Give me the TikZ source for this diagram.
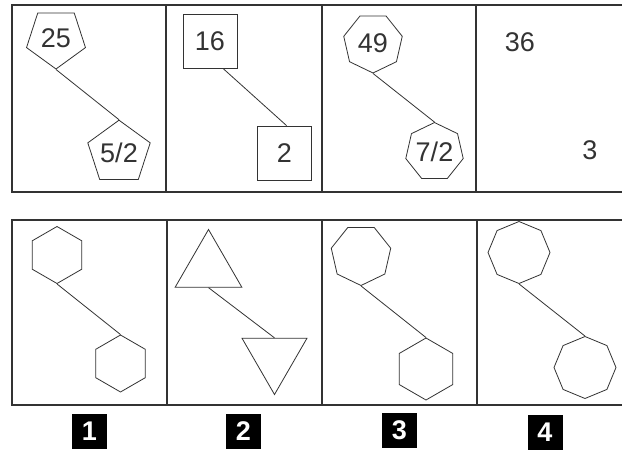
\documentclass[tikz,border=0pt]{standalone}
\usepackage{fontspec}
\setmainfont{Liberation Sans}
\usetikzlibrary{shapes.geometric}
\definecolor{ink}{HTML}{333333}
\begin{document}
\begin{tikzpicture}[x=1pt,y=-1pt,
  frame/.style={draw=ink, line width=1.6pt},
  divider/.style={draw=ink, line width=1.3pt},
  poly/.style={regular polygon, draw=ink, line width=0.8pt, inner sep=0pt, font=\fontsize{27}{30}\selectfont, text=ink},
  sq/.style={rectangle, draw=ink, line width=0.9pt, minimum size=54pt, inner sep=0pt, font=\fontsize{27}{30}\selectfont, text=ink},
  num/.style={inner sep=0pt, font=\fontsize{27}{30}\selectfont, text=ink},
  lbl/.style={rectangle, fill=black, text=white, minimum size=35pt, inner sep=0pt, font=\bfseries\fontsize{27}{30}\selectfont},
  conn/.style={draw=ink, line width=0.8pt}
]
\useasboundingbox[fill=white] (0,0) rectangle (622,455);

% frames
\draw[frame] (624,5) -- (12,5) -- (12,192) -- (624,192);
\draw[divider] (166,5) -- (166,192);
\draw[divider] (322,5) -- (322,192);
\draw[divider] (476,5) -- (476,192);

\draw[frame] (624,220) -- (12,220) -- (12,405) -- (624,405);
\draw[divider] (167,220) -- (167,405);
\draw[divider] (322,220) -- (322,405);
\draw[divider] (477,220) -- (477,405);

% top row
\node[poly, regular polygon sides=5, regular polygon rotate=180, minimum size=62pt] (p25) at (56,38) {25};
\node[poly, regular polygon sides=5, minimum size=62pt] (p52) at (119,153) {5/2};
\draw[conn] (p25.south) -- (p52.north);

\node[sq] (s16) at (210,41) {16};
\node[sq] (s2) at (284.5,153) {2};
\draw[conn] ([xshift=13pt]s16.south) -- ([xshift=2pt]s2.north);

\node[poly, regular polygon sides=7, regular polygon rotate=180, minimum size=60pt] (h49) at (373,43) {49};
\node[poly, regular polygon sides=7, minimum size=56pt] (h72) at (434.5,152) {7/2};
\draw[conn] (h49.south) -- (h72.north);

\node[num] (n36) at (520,42) {36};
\node[num] (n3) at (590,150) {3};

% bottom row
\node[poly, regular polygon sides=6, regular polygon rotate=30, minimum size=57pt] (hx1) at (57,255) {};
\node[poly, regular polygon sides=6, regular polygon rotate=30, minimum size=57pt] (hx2) at (120.5,363.5) {};
\draw[conn] (hx1.south) -- (hx2.north);

\node[poly, regular polygon sides=3, minimum size=77pt] (t1) at (208.5,268) {};
\node[poly, regular polygon sides=3, regular polygon rotate=180, minimum size=75pt] (t2) at (274.5,357) {};
\draw[conn] (t1.south) -- (t2.north);

\node[poly, regular polygon sides=7, regular polygon rotate=180, minimum size=61pt] (hp3) at (361,255) {};
\node[poly, regular polygon sides=6, regular polygon rotate=30, minimum size=62pt] (hx3) at (426,369) {};
\draw[conn] (hp3.south) -- (hx3.north);

\node[poly, regular polygon sides=8, regular polygon rotate=22.5, minimum size=62pt] (o1) at (519,252.5) {};
\node[poly, regular polygon sides=8, regular polygon rotate=22.5, minimum size=62pt] (o2) at (585,367.5) {};
\draw[conn] (o1.south) -- (o2.north);

% answer labels
\node[lbl] (l1) at (89.5,431) {1};
\node[lbl] (l2) at (243.5,431) {2};
\node[lbl] (l3) at (399.5,430.5) {3};
\node[lbl] (l4) at (545,432) {4};
\end{tikzpicture}
\end{document}
